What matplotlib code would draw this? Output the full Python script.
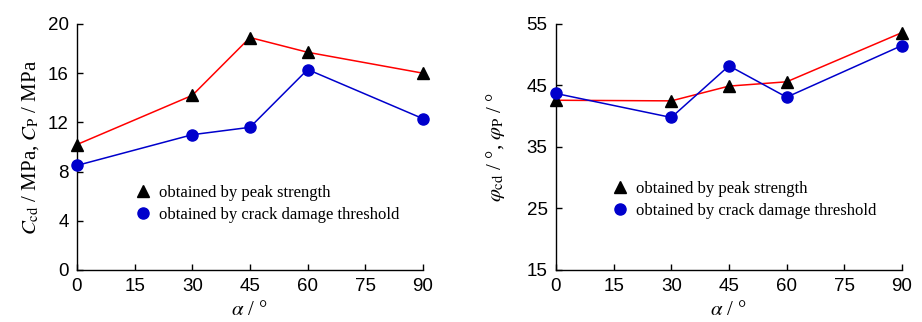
import numpy as np
import matplotlib.pyplot as plt

plt.rcParams['mathtext.fontset'] = 'stix'

# data
alpha = [0, 30, 45, 60, 90]
c_peak = [10.2, 14.2, 18.9, 17.7, 16.0]
c_cd = [8.5, 11.0, 11.6, 16.3, 12.3]
phi_peak = [42.6, 42.5, 44.9, 45.6, 53.6]
phi_cd = [43.7, 39.8, 48.2, 43.1, 51.5]

xticks = [0, 15, 30, 45, 60, 75, 90]
lbl_peak = 'obtained by peak strength'
lbl_cd = 'obtained by crack damage threshold'

tick_font = 'Liberation Sans'
serif = 'Liberation Serif'

fig = plt.figure(figsize=(9.22, 3.22), dpi=100)
ax1 = fig.add_axes([0.0835, 0.1615, 0.3753, 0.764])
ax2 = fig.add_axes([0.603, 0.1615, 0.3753, 0.764])


def style(ax, yticks, ylim):
    ax.set_xlim(0, 90)
    ax.set_ylim(*ylim)
    ax.set_xticks(xticks)
    ax.set_yticks(yticks)
    for s in ['top', 'right']:
        ax.spines[s].set_visible(False)
    for s in ['left', 'bottom']:
        ax.spines[s].set_linewidth(1.0)
    ax.tick_params(direction='in', length=4, width=1, labelsize=13.5, pad=6)
    for t in ax.get_xticklabels() + ax.get_yticklabels():
        t.set_fontfamily(tick_font)
    ax.set_xlabel(r'$\alpha$ / °', fontsize=15, family=serif, labelpad=4)


def draw(ax, y_peak, y_cd):
    ax.plot(alpha, y_peak, color='#ff0000', lw=1.1, zorder=2)
    ax.plot(alpha, y_cd, color='#0000cc', lw=1.1, zorder=2)
    ax.plot(alpha, y_peak, ls='none', marker='^', ms=8.5, color='black',
            clip_on=False, zorder=3, label=lbl_peak)
    ax.plot(alpha, y_cd, ls='none', marker='o', ms=8, color='#0000cc',
            clip_on=False, zorder=3, label=lbl_cd)


draw(ax1, c_peak, c_cd)
style(ax1, [0, 4, 8, 12, 16, 20], (0, 20))
ax1.set_ylabel(r'$C_{\rm cd}$ / MPa, $C_{\rm P}$ / MPa', fontsize=15,
               family=serif, labelpad=5)
ax1.legend(loc='upper left', bbox_to_anchor=(0.143, 0.372), frameon=False,
           prop={'family': serif, 'size': 12}, handletextpad=0.35,
           handlelength=1.2, borderaxespad=0, labelspacing=0.35)

draw(ax2, phi_peak, phi_cd)
style(ax2, [15, 25, 35, 45, 55], (15, 55))
ax2.set_ylabel(r'$\varphi_{\rm cd}$ / °, $\varphi_{\rm P}$ / °', fontsize=15,
               family=serif, labelpad=14)
ax2.legend(loc='upper left', bbox_to_anchor=(0.137, 0.39), frameon=False,
           prop={'family': serif, 'size': 12}, handletextpad=0.35,
           handlelength=1.2, borderaxespad=0, labelspacing=0.35)

fig.savefig('out.png', dpi=100)
